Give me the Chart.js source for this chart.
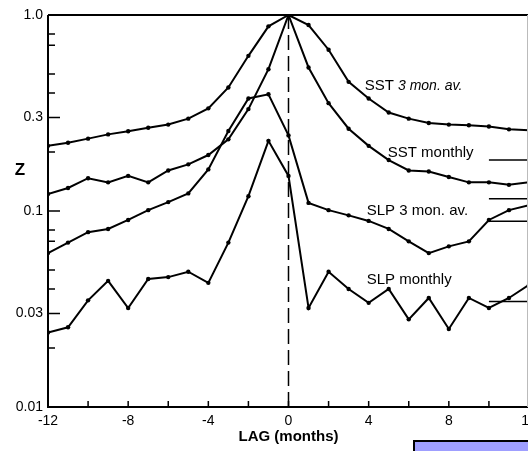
<!DOCTYPE html>
<html>
<head>
<meta charset="utf-8">
<script src="https://cdn.jsdelivr.net/npm/chart.js@4"></script>
<style>
    html, body { margin: 0; padding: 0; background: #fff; overflow: hidden; }
    #wrap { position: relative; width: 528px; height: 451px; overflow: hidden; }
    #wrap canvas { position: absolute; left: 0; top: 0; }
    #box {
        position: absolute; left: 413px; top: 440px; width: 130px; height: 30px;
        background: #9f9fff; border: 2px solid #000;
    }
</style>
</head>
<body>
<div id="wrap">
    <canvas id="chart" width="540" height="451"></canvas>
    <div id="box"></div>
</div>
<script>
// Lags (Monate)
const lags = [-12, -11, -10, -9, -8, -7, -6, -5, -4, -3, -2, -1, 0, 1, 2, 3, 4, 5, 6, 7, 8, 9, 10, 11, 12];

// Werte
const sst3mon = [0.215, 0.223, 0.234, 0.246, 0.255, 0.266, 0.276, 0.296, 0.334, 0.427, 0.619, 0.875, 1.0,
    0.889, 0.665, 0.456, 0.375, 0.318, 0.296, 0.281, 0.276, 0.274, 0.270, 0.261, 0.258];
const sstMonthly = [0.122, 0.131, 0.147, 0.140, 0.151, 0.140, 0.161, 0.173, 0.193, 0.232, 0.331, 0.529, 1.0,
    0.540, 0.355, 0.263, 0.215, 0.182, 0.161, 0.159, 0.149, 0.140, 0.140, 0.136, 0.140];
const slp3mon = [0.061, 0.069, 0.078, 0.081, 0.090, 0.101, 0.111, 0.123, 0.163, 0.256, 0.375, 0.394, 0.243,
    0.110, 0.101, 0.095, 0.089, 0.081, 0.070, 0.061, 0.066, 0.070, 0.090, 0.101, 0.107];
const slpMonthly = [0.024, 0.0255, 0.035, 0.044, 0.032, 0.045, 0.046, 0.049, 0.043, 0.069, 0.119, 0.228, 0.151,
    0.032, 0.049, 0.040, 0.034, 0.040, 0.028, 0.036, 0.025, 0.036, 0.032, 0.036, 0.042];

// Kurze Hinweislinien am rechten Rand
const leaderLags = [10, 12];
const leaderValues = [0.182, 0.1155, 0.0887, 0.0345];

// Achsen
const yLabelTicks = [0.01, 0.03, 0.1, 0.3, 1.0];
const yTickText = ['0.01', '0.03', '0.1', '0.3', '1.0'];
const yMinorTicks = [0.02, 0.04, 0.05, 0.07, 0.08, 0.2, 0.4, 0.5, 0.7, 0.8];
const xTicks = [-12, -10, -8, -6, -4, -2, 0, 2, 4, 6, 8, 10, 12];
const xLabelTicks = [-12, -8, -4, 0, 4, 8, 12];

// Kurvenbeschriftungen (Lag, Wert, Teile)
const curveLabels = [
    { lag: 3.8, value: 0.435, parts: [['SST ', 'normal'], ['3 mon. av.', 'italic']] },
    { lag: 4.95, value: 0.198, parts: [['SST monthly', 'normal']] },
    { lag: 3.9, value: 0.1, parts: [['SLP ', 'normal'], ['3 mon. av.', 'normal']] },
    { lag: 3.9, value: 0.0445, parts: [['SLP monthly', 'normal']] }
];

const FONT = '"Liberation Sans", Arial, sans-serif';

function series(values) {
    return values.map((v, i) => ({ x: lags[i], y: v }));
}

function lineSet(values) {
    return {
        data: series(values),
        borderColor: '#000',
        backgroundColor: '#000',
        borderWidth: 2,
        pointRadius: 2.2,
        pointBorderWidth: 0,
        tension: 0
    };
}

const datasets = [
    lineSet(sst3mon),
    lineSet(sstMonthly),
    lineSet(slp3mon),
    lineSet(slpMonthly),
    {
        data: [{ x: 0, y: 0.01 }, { x: 0, y: 1.0 }],
        borderColor: '#000', borderWidth: 1.5, borderDash: [15, 6], pointRadius: 0
    }
];
leaderValues.forEach(v => {
    datasets.push({
        data: leaderLags.map(l => ({ x: l, y: v })),
        borderColor: '#000', borderWidth: 1.5, pointRadius: 0
    });
});

// Rahmen, Innen-Ticks und Texte
const decorPlugin = {
    id: 'decor',
    afterDatasetsDraw(chart) {
        const ctx = chart.ctx;
        const a = chart.chartArea;
        const xs = chart.scales.x;
        const ys = chart.scales.y;
        ctx.save();
        ctx.strokeStyle = '#000';
        ctx.lineWidth = 2;
        ctx.beginPath();
        ctx.moveTo(a.left, a.top);
        ctx.lineTo(a.right, a.top);
        ctx.moveTo(a.left, a.top);
        ctx.lineTo(a.left, a.bottom);
        ctx.lineTo(a.right, a.bottom);
        ctx.stroke();

        // blasse rechte Kante
        ctx.strokeStyle = '#bbb';
        ctx.lineWidth = 1;
        ctx.beginPath();
        ctx.moveTo(527.5, a.top);
        ctx.lineTo(527.5, a.bottom);
        ctx.stroke();

        ctx.strokeStyle = '#000';
        ctx.lineWidth = 1.5;
        ctx.beginPath();
        yLabelTicks.forEach(v => {
            const y = ys.getPixelForValue(v);
            ctx.moveTo(a.left, y);
            ctx.lineTo(a.left + 12, y);
        });
        yMinorTicks.forEach(v => {
            const y = ys.getPixelForValue(v);
            ctx.moveTo(a.left, y);
            ctx.lineTo(a.left + 7, y);
        });
        xTicks.forEach(t => {
            const x = xs.getPixelForValue(t);
            ctx.moveTo(x, a.bottom);
            ctx.lineTo(x, a.bottom - 6);
        });
        ctx.stroke();

        ctx.fillStyle = '#000';
        ctx.textBaseline = 'middle';
        ctx.textAlign = 'left';
        curveLabels.forEach(lb => {
            let x = xs.getPixelForValue(lb.lag);
            const y = ys.getPixelForValue(lb.value);
            lb.parts.forEach(([txt, style]) => {
                ctx.font = (style === 'italic' ? 'italic 14px ' : '15px ') + FONT;
                ctx.fillText(txt, x, y);
                x += ctx.measureText(txt).width;
            });
        });

        ctx.font = 'bold 17px ' + FONT;
        ctx.textAlign = 'center';
        ctx.fillText('Z', 20, 170);
        ctx.restore();
    }
};

new Chart(document.getElementById('chart'), {
    type: 'line',
    data: { datasets },
    options: {
        responsive: false,
        animation: false,
        events: [],
        layout: { padding: { top: 15, right: 11, left: 0, bottom: 0 } },
        plugins: { legend: { display: false }, tooltip: { enabled: false } },
        scales: {
            x: {
                type: 'linear',
                min: -12,
                max: 12,
                afterBuildTicks: s => { s.ticks = xLabelTicks.map(v => ({ value: v })); },
                afterFit: s => { s.height = 44; s.paddingLeft = 0; s.paddingRight = 0; },
                grid: { display: false, drawTicks: false },
                border: { display: false },
                ticks: {
                    color: '#000', font: { family: FONT, size: 14 }, padding: 6,
                    maxRotation: 0, autoSkip: false,
                    callback: v => String(v)
                },
                title: {
                    display: true, text: 'LAG (months)', color: '#000',
                    font: { family: FONT, size: 15, weight: 'bold' }, padding: { top: 0, bottom: 5 }
                }
            },
            y: {
                type: 'logarithmic',
                min: 0.01,
                max: 1.0,
                afterBuildTicks: s => { s.ticks = yLabelTicks.map(v => ({ value: v })); },
                afterFit: s => { s.width = 48; },
                grid: { display: false, drawTicks: false },
                border: { display: false },
                ticks: {
                    color: '#000', font: { family: FONT, size: 14 }, padding: 5,
                    autoSkip: false,
                    callback: v => yTickText[yLabelTicks.indexOf(v)]
                }
            }
        }
    },
    plugins: [decorPlugin]
});
</script>
</body>
</html>
